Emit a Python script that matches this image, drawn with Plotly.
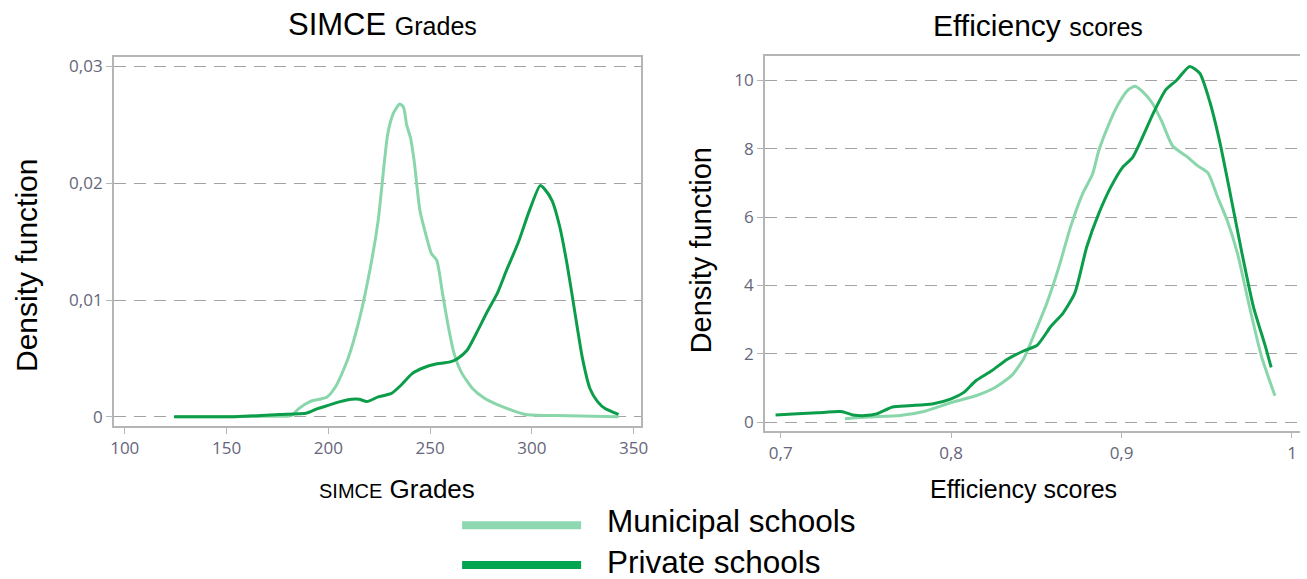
import plotly.graph_objects as go

# ---- SIMCE grades: kernel density by school type ----
simce_muni_x = [125, 150, 170, 181.8, 185.5, 191, 199.4, 204, 209.7, 215.2, 220.8, 224.5, 229.2, 232,
                235.1, 237, 238.5, 240.4, 242.2, 245, 247.8, 250.6, 253.3, 256.1, 258.9, 261.7, 265.4,
                271, 276.6, 282.2, 289.6, 297, 311.9, 342.6]
simce_muni_y = [0, 0, 0.00005, 0.0001, 0.0007, 0.0013, 0.0017, 0.0027, 0.005, 0.0083, 0.0129, 0.0168,
                0.0242, 0.026, 0.0268, 0.0265, 0.025, 0.0239, 0.0219, 0.0177, 0.0157, 0.014, 0.0134,
                0.0106, 0.0078, 0.0055, 0.0038, 0.0024, 0.0016, 0.0011, 0.0006, 0.0002, 0.0001, 0.0]

simce_priv_x = [124.2, 135.3, 153.9, 166.9, 176.2, 189.2, 194.8, 200.4, 205.9, 211.5, 215.2, 219, 224.5,
                231, 235.7, 241.2, 246.8, 252.4, 259.9, 263.6, 268.2, 272.9, 278.4, 283.1, 287.7, 293.3,
                298.9, 304.1, 306.3, 310, 313.7, 317.5, 321.2, 324.9, 328.6, 332.3, 336, 342.6]
simce_priv_y = [0, 0, 0, 0.0001, 0.0002, 0.0003, 0.0007, 0.001, 0.0013, 0.0015, 0.0015, 0.0013, 0.0017,
                0.002, 0.0027, 0.0037, 0.0042, 0.0045, 0.0047, 0.005, 0.0057, 0.0072, 0.0091, 0.0106,
                0.0126, 0.0149, 0.0177, 0.0198, 0.0195, 0.0185, 0.0163, 0.0129, 0.0089, 0.005, 0.0024,
                0.0013, 0.0007, 0.0002]

# ---- Efficiency scores: kernel density by school type ----
eff_muni_x = [0.7377, 0.7516, 0.770, 0.784, 0.8005, 0.8145, 0.826, 0.8354, 0.8424, 0.849, 0.8563, 0.8633,
              0.870, 0.8773, 0.883, 0.8866, 0.8924, 0.898, 0.904, 0.908, 0.9122, 0.918, 0.9236, 0.930,
              0.9378, 0.9447, 0.9506, 0.9564, 0.962, 0.968, 0.975, 0.982, 0.990]
eff_muni_y = [0.1, 0.15, 0.19, 0.31, 0.58, 0.77, 1.02, 1.36, 1.84, 2.6, 3.5, 4.55, 5.7, 6.7, 7.26, 7.94,
              8.7, 9.3, 9.73, 9.83, 9.68, 9.34, 8.8, 8.08, 7.79, 7.5, 7.3, 6.58, 5.9, 4.94, 3.39, 1.94, 0.77]

eff_priv_x = [0.697, 0.7098, 0.7214, 0.7354, 0.7423, 0.7493, 0.7563, 0.7656, 0.775, 0.7889, 0.800, 0.8075,
              0.8145, 0.8238, 0.833, 0.8424, 0.8505, 0.8587, 0.8657, 0.8726, 0.8796, 0.8866, 0.8936,
              0.9005, 0.9064, 0.9122, 0.9192, 0.926, 0.932, 0.940, 0.9459, 0.9517, 0.9575, 0.9634,
              0.9703, 0.9773, 0.9843, 0.9878]
eff_priv_y = [0.21, 0.24, 0.27, 0.31, 0.21, 0.19, 0.24, 0.44, 0.48, 0.53, 0.68, 0.87, 1.21, 1.5, 1.84,
              2.08, 2.25, 2.81, 3.19, 3.78, 5.13, 6.1, 6.87, 7.45, 7.74, 8.33, 9.1, 9.73, 9.99, 10.41,
              10.21, 9.39, 8.23, 6.78, 5.03, 3.39, 2.23, 1.6]

simce_ticks = [100, 150, 200, 250, 300, 350]
simce_dens_ticks = [0, 0.01, 0.02, 0.03]
eff_ticks = [0.7, 0.8, 0.9, 1.0]
eff_dens_ticks = [0, 2, 4, 6, 8, 10]

series_names = ["Municipal schools", "Private schools"]

W, H = 1307, 579
LIGHT = "#8ad6ab"
DARK = "#0c9d4a"
LEGEND_LIGHT = "#8dd8b0"
LEGEND_DARK = "#00a550"
GRID = "#a3a3a3"
FRAME = "#b5b5b5"
TICKFONT = dict(family="Open Sans, sans-serif", size=17, color="#66667a")
TXT = "Liberation Sans, Arial, sans-serif"

fig = go.Figure()

line_kw = dict(mode="lines", line_shape="spline", showlegend=False, hoverinfo="skip")
fig.add_trace(go.Scatter(x=simce_muni_x, y=simce_muni_y, line=dict(color=LIGHT, width=3, smoothing=0.6),
                         name=series_names[0], xaxis="x", yaxis="y", **line_kw))
fig.add_trace(go.Scatter(x=simce_priv_x, y=simce_priv_y, line=dict(color=DARK, width=3, smoothing=0.6),
                         name=series_names[1], xaxis="x", yaxis="y", **line_kw))
fig.add_trace(go.Scatter(x=eff_muni_x, y=eff_muni_y, line=dict(color=LIGHT, width=3, smoothing=0.6),
                         name=series_names[0], xaxis="x2", yaxis="y2", **line_kw))
fig.add_trace(go.Scatter(x=eff_priv_x, y=eff_priv_y, line=dict(color=DARK, width=3, smoothing=0.6),
                         name=series_names[1], xaxis="x2", yaxis="y2", **line_kw))


def px_x(p):
    return p / W


def px_y(p):
    return 1 - p / H


axis_common = dict(showline=True, linecolor=FRAME, linewidth=1.5, ticks="outside", ticklen=6,
                   tickcolor=FRAME, tickwidth=1.2, tickfont=TICKFONT, zeroline=False)
grid_common = dict(showgrid=True, gridcolor=GRID, griddash="12px,8px", gridwidth=1.4)

fig.update_layout(
    width=W, height=H,
    margin=dict(l=0, r=0, t=0, b=0),
    paper_bgcolor="white", plot_bgcolor="white",
    separators=",.",
    xaxis=dict(domain=[px_x(110.7), px_x(642.3)], range=[94.6, 353.6], tickvals=simce_ticks,
               showgrid=False, mirror=True, anchor="y", **axis_common),
    yaxis=dict(domain=[px_y(427.3), px_y(55)], range=[-0.00082, 0.03085], tickvals=simce_dens_ticks,
               mirror=True, anchor="x", **grid_common, **axis_common),
    xaxis2=dict(domain=[px_x(767.3), 1.0], range=[0.6907, 1.0047], tickvals=eff_ticks,
                showgrid=False, mirror=True, anchor="y2", **axis_common),
    yaxis2=dict(domain=[px_y(431.7), px_y(54.7)], range=[-0.253, 10.706], tickvals=eff_dens_ticks,
                mirror=False, anchor="x2", **grid_common, **axis_common),
)

annotations = [
    # panel titles
    dict(x=px_x(382), y=px_y(23), text="SIMCE <span style='font-size:25px'>Grades</span>",
         font=dict(family=TXT, size=31, color="black")),
    dict(x=px_x(1043), y=px_y(24), text="Efficiency <span style='font-size:25px'>scores</span>",
         font=dict(family=TXT, size=30, color="black")),
    # x-axis titles
    dict(x=px_x(396), y=px_y(490), text="<span style='font-size:20px'>SIMCE</span> Grades",
         font=dict(family=TXT, size=26, color="black")),
    dict(x=px_x(1028), y=px_y(490), text="Efficiency scores",
         font=dict(family=TXT, size=25, color="black")),
    # y-axis titles
    dict(x=px_x(22), y=px_y(265), text="Density function", textangle=-90,
         font=dict(family=TXT, size=30, color="black")),
    dict(x=px_x(703), y=px_y(250), text="Density function", textangle=-90,
         font=dict(family=TXT, size=29, color="black")),
    # legend labels
    dict(x=px_x(606), y=px_y(523), text=series_names[0], xanchor="left",
         font=dict(family=TXT, size=31.5, color="black")),
    dict(x=px_x(606), y=px_y(564), text=series_names[1], xanchor="left",
         font=dict(family=TXT, size=31.5, color="black")),
]
for a in annotations:
    a.setdefault("xanchor", "center")
    a.update(xref="paper", yref="paper", yanchor="middle", showarrow=False)
fig.update_layout(annotations=annotations)

# legend keys
fig.add_shape(type="line", xref="paper", yref="paper", x0=px_x(462), x1=px_x(582),
              y0=px_y(527), y1=px_y(527), line=dict(color=LEGEND_LIGHT, width=8))
fig.add_shape(type="line", xref="paper", yref="paper", x0=px_x(462), x1=px_x(582),
              y0=px_y(567), y1=px_y(567), line=dict(color=LEGEND_DARK, width=8))

fig.write_html("out.html")
